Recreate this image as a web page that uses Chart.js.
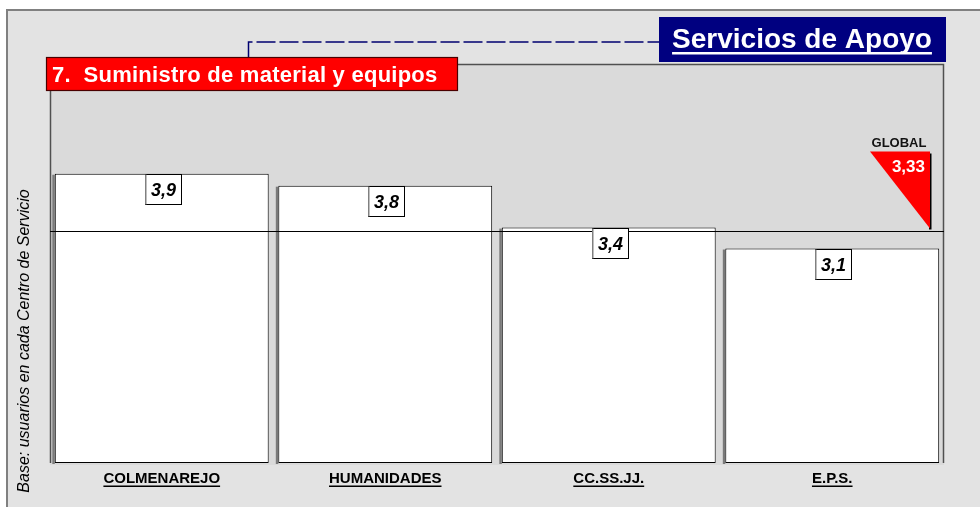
<!DOCTYPE html>
<html lang="es">
<head>
<meta charset="UTF-8">
<title>Servicios de Apoyo - Suministro de material y equipos</title>
<script src="https://cdn.jsdelivr.net/npm/chart.js"></script>
<style>
    html, body { margin: 0; padding: 0; background: #fff; }
    #wrap { width: 980px; height: 507px; }
</style>
</head>
<body>
<div id="wrap"><canvas id="chart" width="980" height="507"></canvas></div>
<script>
    // datos
    const categories = ['COLMENAREJO', 'HUMANIDADES', 'CC.SS.JJ.', 'E.P.S.'];
    const scores = [3.90, 3.78, 3.36, 3.15];
    const scoreLabels = ['3,9', '3,8', '3,4', '3,1'];
    const globalScore = 3.33;
    const globalLabel = '3,33';
    const yMin = 1, yMax = 5;

    const FONT = '"Liberation Sans", Arial, sans-serif';

    function underlinedText(ctx, text, x, y, font, color, lineW, offset) {
        ctx.font = font;
        ctx.fillStyle = color;
        ctx.textBaseline = 'alphabetic';
        ctx.textAlign = 'left';
        const w = ctx.measureText(text).width;
        const left = x - w / 2;
        ctx.fillText(text, left, y);
        ctx.fillRect(left, y + offset, w, lineW);
    }

    const decor = {
        id: 'decor',
        beforeDraw(chart) {
            const ctx = chart.ctx;
            const a = chart.chartArea;
            ctx.save();
            ctx.fillStyle = '#fff';
            ctx.fillRect(0, 0, chart.width, chart.height);
            // marco exterior
            ctx.fillStyle = '#e3e3e3';
            ctx.fillRect(7, 10, 990, 510);
            ctx.strokeStyle = '#808080';
            ctx.lineWidth = 2;
            ctx.strokeRect(7, 10, 990, 510);
            // zona del grafico
            ctx.fillStyle = '#dadada';
            ctx.fillRect(a.left, a.top, a.right - a.left, a.bottom - a.top + 2);
            ctx.strokeStyle = '#505050';
            ctx.lineWidth = 1.5;
            ctx.beginPath();
            ctx.moveTo(a.left + 0.5, a.bottom);
            ctx.lineTo(a.left + 0.5, a.top + 0.5);
            ctx.lineTo(a.right - 0.5, a.top + 0.5);
            ctx.lineTo(a.right - 0.5, a.bottom);
            ctx.stroke();
            ctx.restore();
        },
        beforeDatasetsDraw(chart) {
            // sombra gris a la izquierda de cada barra
            const ctx = chart.ctx;
            ctx.save();
            ctx.fillStyle = '#7a7a7a';
            chart.getDatasetMeta(0).data.forEach(bar => {
                const left = bar.x - bar.width / 2;
                ctx.fillRect(left - 2.5, bar.y + 1, 2.5, bar.base - bar.y);
            });
            ctx.restore();
        },
        afterDraw(chart) {
            const ctx = chart.ctx;
            const a = chart.chartArea;
            const ys = chart.scales.y;
            const xs = chart.scales.x;
            ctx.save();

            // linea global
            const gy = Math.round(ys.getPixelForValue(globalScore)) + 0.5;
            ctx.strokeStyle = '#000';
            ctx.lineWidth = 1;
            ctx.beginPath();
            ctx.moveTo(a.left, gy);
            ctx.lineTo(a.right, gy);
            ctx.stroke();

            // cajas de valores
            chart.getDatasetMeta(0).data.forEach((bar, i) => {
                const bx = Math.round(bar.x - 17) + 0.5;
                const by = Math.round(bar.y) + 0.5;
                ctx.fillStyle = '#fff';
                ctx.fillRect(bx, by, 36, 30);
                ctx.strokeStyle = '#000';
                ctx.lineWidth = 1;
                ctx.strokeRect(bx, by, 36, 30);
                ctx.fillStyle = '#808080';
                ctx.fillRect(bx - 0.5, by, 1.5, 30);
                ctx.font = 'italic bold 18px ' + FONT;
                ctx.fillStyle = '#000';
                ctx.textAlign = 'center';
                ctx.textBaseline = 'alphabetic';
                ctx.fillText(scoreLabels[i], bx + 18, by + 21);
            });

            // triangulo global
            const tipY = gy - 3;
            const topY = tipY - 77;
            ctx.fillStyle = '#000';
            ctx.fillRect(929, topY + 2, 2.5, tipY - topY - 1);
            ctx.fillStyle = '#ff0000';
            ctx.beginPath();
            ctx.moveTo(870, topY);
            ctx.lineTo(930, topY);
            ctx.lineTo(930, tipY);
            ctx.closePath();
            ctx.fill();
            ctx.font = 'bold 17px ' + FONT;
            ctx.fillStyle = '#fff';
            ctx.textAlign = 'right';
            ctx.fillText(globalLabel, 925, topY + 20);
            ctx.font = 'bold 13px ' + FONT;
            ctx.fillStyle = '#111';
            ctx.textAlign = 'center';
            ctx.fillText('GLOBAL', 899, topY - 5);

            // conector punteado
            ctx.strokeStyle = '#000070';
            ctx.lineWidth = 1.5;
            ctx.setLineDash([19, 4]);
            ctx.beginPath();
            ctx.moveTo(248.5, 57);
            ctx.lineTo(248.5, 42);
            ctx.lineTo(659, 42);
            ctx.stroke();
            ctx.setLineDash([]);

            // titulo azul
            ctx.fillStyle = '#000080';
            ctx.fillRect(659, 17, 287, 45);
            underlinedText(ctx, 'Servicios de Apoyo', 802, 48, 'bold 28px ' + FONT, '#fff', 2.5, 4);

            // titulo rojo
            ctx.fillStyle = '#ff0000';
            ctx.fillRect(46, 57, 411, 33);
            ctx.strokeStyle = '#4a0000';
            ctx.lineWidth = 1.2;
            ctx.strokeRect(46.5, 57.5, 411, 33);
            ctx.font = 'bold 22px ' + FONT;
            ctx.fillStyle = '#fff';
            ctx.textAlign = 'left';
            ctx.letterSpacing = '0.25px';
            ctx.fillText('7.  Suministro de material y equipos', 52, 82);
            ctx.letterSpacing = '0px';

            // etiquetas de categoria
            categories.forEach((c, i) => {
                underlinedText(ctx, c, xs.getPixelForValue(i), 483, 'bold 15px ' + FONT, '#000', 1.5, 2.5);
            });

            // titulo del eje
            ctx.translate(25, 341);
            ctx.rotate(-Math.PI / 2);
            ctx.font = 'italic 16px ' + FONT;
            ctx.fillStyle = '#000';
            ctx.textAlign = 'center';
            ctx.textBaseline = 'middle';
            ctx.fillText('Base: usuarios en cada Centro de Servicio', 0, 0);

            ctx.restore();
        }
    };

    new Chart(document.getElementById('chart'), {
        type: 'bar',
        data: {
            labels: categories,
            datasets: [{
                data: scores,
                base: yMin,
                backgroundColor: '#ffffff',
                borderColor: '#000000',
                borderWidth: 1,
                borderSkipped: false,
                barPercentage: 0.957,
                categoryPercentage: 1
            }]
        },
        options: {
            responsive: false,
            animation: false,
            layout: { padding: { left: 50, top: 64, right: 36, bottom: 44 } },
            plugins: { legend: { display: false }, tooltip: { enabled: false } },
            scales: {
                x: { display: false },
                y: { display: false, min: yMin, max: yMax }
            }
        },
        plugins: [decor]
    });
</script>
</body>
</html>
